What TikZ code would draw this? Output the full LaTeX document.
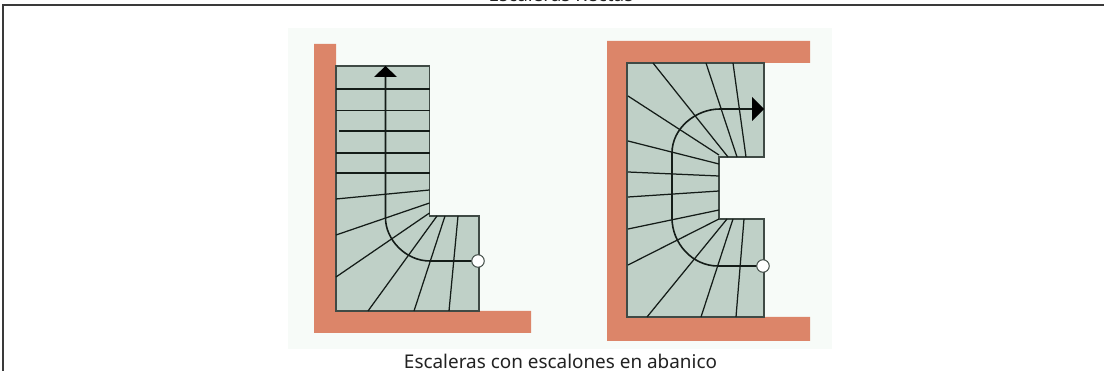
\documentclass[tikz,border=0pt]{standalone}
\usepackage{fontspec}
\setmainfont{Noto Sans}
\definecolor{wallc}{HTML}{DC8569}
\definecolor{stairc}{HTML}{BFD0C7}
\definecolor{bgc}{HTML}{F7FBF8}
\definecolor{linec}{HTML}{141C18}
\definecolor{edgec}{HTML}{3F4A45}
\definecolor{framec}{HTML}{3A3A3A}
\definecolor{textc}{HTML}{222222}
\tikzset{
  wall/.style={fill=wallc,draw=none},
  stairbody/.style={fill=stairc,draw=edgec,line width=1.1pt},
  tread/.style={draw=linec,line width=1.25pt},
  walk/.style={draw=linec,line width=1.6pt},
  headtip/.style={fill=black,draw=none},
  startdot/.style={circle,draw=edgec,fill=white,line width=1pt,minimum size=12.5pt,inner sep=0pt},
  caption/.style={font=\fontsize{18.9}{22}\selectfont,text=textc,inner sep=0pt,anchor=base},
  frameline/.style={draw=framec,line width=1.8pt}
}
\begin{document}
\begin{tikzpicture}[x=1pt,y=-1pt]
\useasboundingbox (0,0) rectangle (1104,371);
\clip (0,0) rectangle (1104,371);
\fill[white] (0,0) rectangle (1104,371);
\fill[bgc] (288,28) rectangle (832,349);
% frame
\coordinate (fa) at (3,371); \coordinate (fb) at (3,5); \coordinate (fc) at (1104,5);
\draw[frameline] (fa) -- (fb) -- (fc);
\node[caption] (toptext) at (561,2) {Escaleras Rectas};
\node[caption] (cap) at (560.5,368.5) {Escaleras con escalones en abanico};
% left stair
\fill[wall] (314,44) -- (336,44) -- (336,311) -- (531,311) -- (531,333) -- (314,333) -- cycle;
\draw[stairbody] (336,66) -- (429.5,66) -- (429.5,216) -- (479,216) -- (479,311) -- (336,311) -- cycle;
\foreach \ya/\xa/\yb in {89/336/89,110.7/336/110.7,131/339/131,153/336/153,173/336/173,199/336/190,235/336/203,277/336/213}
  \draw[tread] (\xa,\ya) -- (429.5,\yb);
\draw[tread] (368,311) -- (437,216);
\draw[tread] (414,311) -- (445,216);
\draw[tread] (449,311) -- (458,216);
\node[startdot] (dotA) at (478,261) {};
\coordinate (topA) at (385.5,70);
\draw[walk] (topA) -- (385.5,218) .. controls (385.5,239) and (405,261) .. (430,261) -- (dotA);
\fill[headtip] (385.5,66) -- (397,77) -- (374,77) -- cycle;
% right stair
\fill[wall] (607,41) -- (810,41) -- (810,63) -- (627,63) -- (627,317) -- (810,317) -- (810,341) -- (607,341) -- cycle;
\draw[stairbody] (627,63) -- (764,63) -- (764,157) -- (719,157) -- (719,219) -- (764,219) -- (764,317) -- (627,317) -- cycle;
\foreach \xa/\ya/\xb/\yb in {653/63/728/157,706/63/737/157,733/63/746/157,
  628/96/719/155,628/141/719/164,628/172/719/176,628/197/719/191,628/229/719/210,628/265/719/219,
  647/317/727/219,701/317/733/219,736/317/744/219}
  \draw[tread] (\xa,\ya) -- (\xb,\yb);
\node[startdot] (dotB) at (763,266) {};
\coordinate (tipB) at (755,109);
\draw[walk] (tipB) -- (720,109) .. controls (696,109) and (672,128) .. (672,153) -- (672,218) .. controls (672,243) and (692,266) .. (718,266) -- (dotB);
\fill[headtip] (764,109) -- (752,97) -- (752,121) -- cycle;
\end{tikzpicture}
\end{document}
